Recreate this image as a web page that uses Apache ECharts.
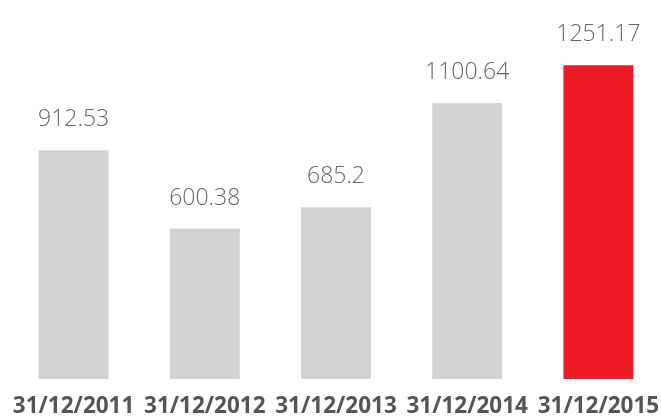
<!DOCTYPE html>
<html>
<head>
<meta charset="utf-8">
<script src="https://cdn.jsdelivr.net/npm/echarts@6/dist/echarts.min.js"></script>
<style>
	html, body { margin: 0; padding: 0; background: #fff; }
	#main { width: 661px; height: 419px; }
</style>
</head>
<body>
<div id="main"></div>
<script>
	// 数据
	var dates = ['31/12/2011', '31/12/2012', '31/12/2013', '31/12/2014', '31/12/2015']
	var values = [912.53, 600.38, 685.2, 1100.64, 1251.17]
	var barColors = ['#d1d2d4', '#d1d2d4', '#d1d2d4', '#d1d2d4', '#ed1c24']

	var myChart = echarts.init(document.getElementById('main'))

	var seriesData = []
	for (var i = 0; i < values.length; i++) {
		seriesData.push({
			value: values[i],
			itemStyle: { color: barColors[i] }
		})
	}

	var option = {
		animation: false,
		grid: {
			left: 8,
			right: -3,
			top: 3,
			bottom: 40,
			containLabel: false,
			outerBoundsMode: 'none'
		},
		xAxis: {
			type: 'category',
			data: dates,
			axisLine: { show: false },
			axisTick: { show: false },
			axisLabel: {
				margin: 16,
				color: '#555555',
				fontSize: 22.5,
				fontWeight: 'bold',
				fontFamily: '"Open Sans", sans-serif',
				interval: 0,
				hideOverlap: false
			}
		},
		yAxis: {
			type: 'value',
			min: 0,
			max: 1500,
			show: false,
			splitLine: { show: false }
		},
		series: [{
			type: 'bar',
			barWidth: 70,
			data: seriesData,
			label: {
				show: true,
				position: 'top',
				distance: 19,
				color: '#666666',
				fontSize: 23,
				fontWeight: 300,
				fontFamily: '"Open Sans", sans-serif'
			}
		}]
	}

	myChart.setOption(option, true)
</script>
</body>
</html>
